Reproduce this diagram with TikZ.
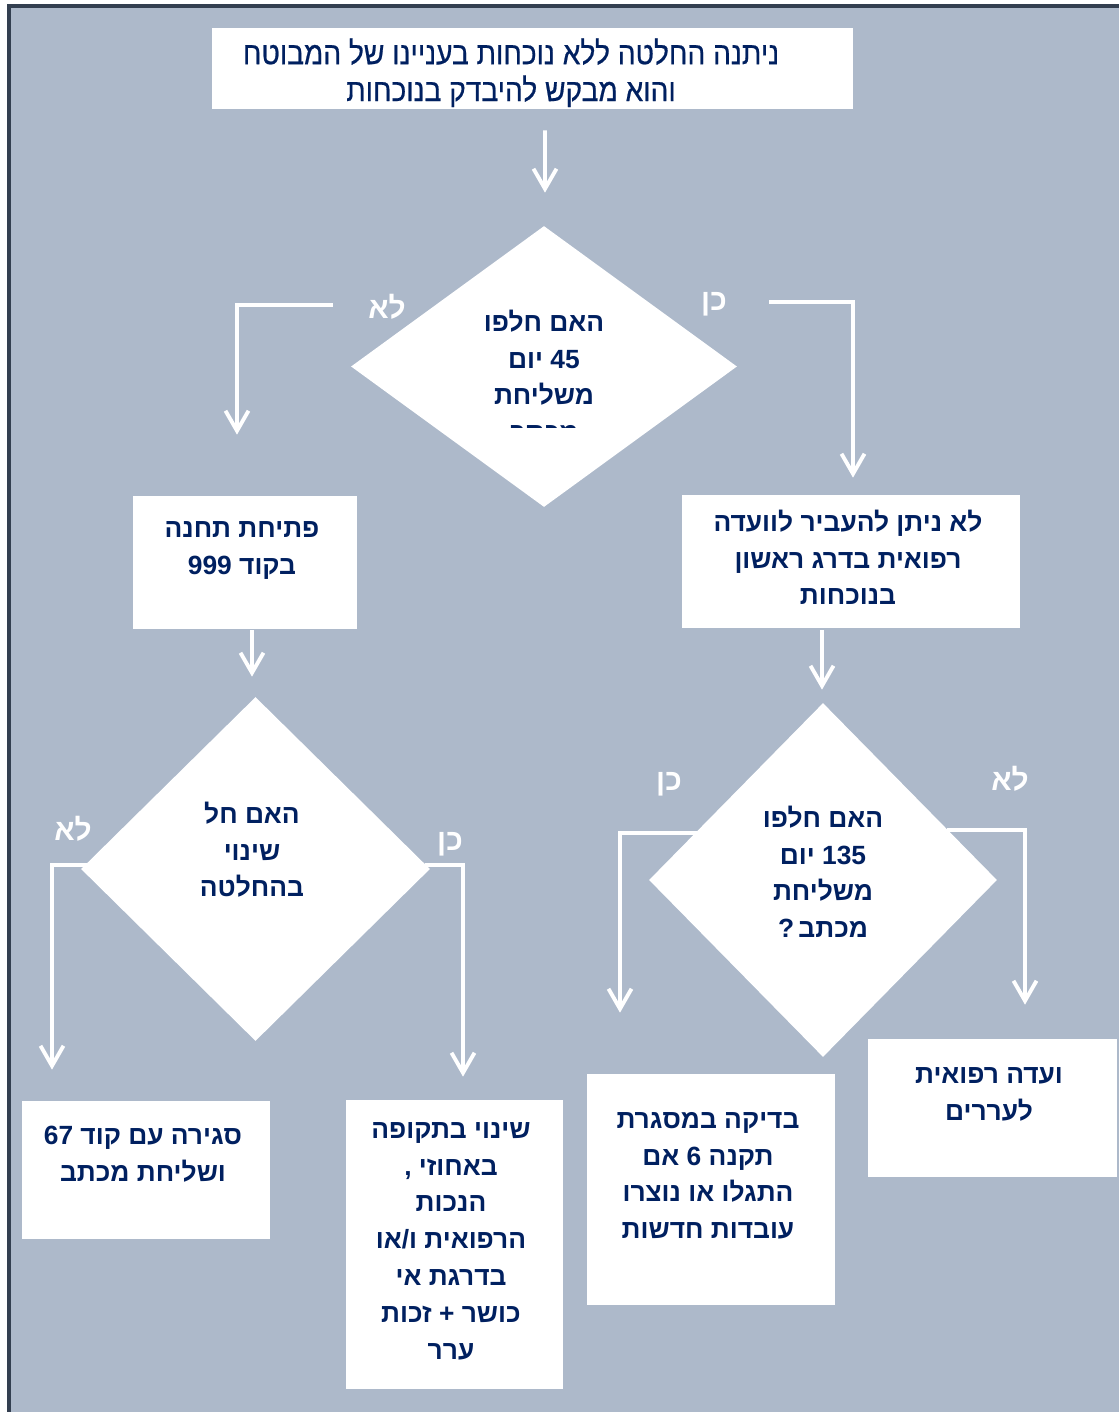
\documentclass[tikz,border=0pt]{standalone}
\usepackage{fontspec}
\usetikzlibrary{shapes.geometric,arrows.meta,calc}
\TeXXeTstate=1
\newfontfamily\hebfont[Script=Hebrew]{Liberation Sans}
\newfontfamily\hebnarrow[Script=Hebrew,FakeStretch=0.89,FakeBold=0.6]{Liberation Sans}
\newcommand{\heb}[1]{\strut\beginR #1\endR}
\definecolor{panel}{HTML}{ADB9CA}
\definecolor{frame}{HTML}{333F50}
\definecolor{navy}{HTML}{002060}

% One pixel of the sheet
\def\pxu{0.02cm}
\tikzset{
    box/.style 2 args={fill=white, inner sep=0pt, minimum width=#1*\pxu, minimum height=#2*\pxu},
    decision/.style 2 args={diamond, fill=white, inner sep=0pt, minimum width=#1*\pxu, minimum height=#2*\pxu},
    boxtext/.style={text=navy, align=center, inner sep=0pt, anchor=north, font={\hebfont\bfseries\fontsize{15}{21}\selectfont}},
    answer/.style={text=white, inner sep=0pt, font={\hebfont\bfseries\fontsize{17}{20}\selectfont}},
    flow/.style={white, line width=2.2pt, -{Straight Barb[length=4mm, width=4.6mm]}}
}

\begin{document}
\begin{tikzpicture}[x=0.02cm, y=-0.02cm]

    \useasboundingbox (0,0) rectangle (1119,1412);

    % Sheet and its frame
    \fill[white] (0,0) rectangle (1119,1412);
    \fill[panel] (7,4) rectangle (1119,1412);
    \fill[frame] (7,4) rectangle (11,1412);
    \fill[frame] (7,4) rectangle (1119,8);

    % Boxes
    \node[box={641}{81}] (start) at (532.5,68.5) {};
    \node[box={224}{133}] (open) at (245,562.5) {};
    \node[box={338}{133}] (noboard) at (851,561.5) {};
    \node[box={248}{138}] (close) at (146,1170) {};
    \node[box={217}{289}] (change) at (454.5,1244.5) {};
    \node[box={248}{231}] (check) at (711,1189.5) {};
    \node[box={249}{138}] (appeal) at (992.5,1108) {};

    % Decisions
    \node[decision={386}{281}] (q1) at (544,366.5) {};
    \node[decision={349}{344}] (q2) at (255.5,869) {};
    \node[decision={348}{354}] (q3) at (823,880) {};

    % Texts of the boxes
    \node[boxtext, font={\hebnarrow\fontsize{18}{21}\selectfont}] (startT) at (511,38)
        {\heb{ניתנה החלטה ללא נוכחות בעניינו של המבוטח}\\ \heb{והוא מבקש להיבדק בנוכחות}};
    \node[boxtext] (openT) at (242,511) {\heb{פתיחת תחנה}\\ \heb{בקוד 999}};
    \node[boxtext] (noboardT) at (848,505)
        {\heb{לא ניתן להעביר לוועדה}\\ \heb{רפואית בדרג ראשון}\\ \heb{בנוכחות}};
    \node[boxtext] (closeT) at (143,1118) {\heb{סגירה עם קוד 67}\\ \heb{ושליחת מכתב}};
    \node[boxtext] (changeT) at (451,1112)
        {\heb{שינוי בתקופה}\\ \heb{באחוזי ,}\\ \heb{הנכות}\\ \heb{הרפואית ו/או}\\ \heb{בדרגת אי}\\ \heb{כושר + זכות}\\ \heb{ערר}};
    \node[boxtext] (checkT) at (708,1102)
        {\heb{בדיקה במסגרת}\\ \heb{תקנה 6 אם}\\ \heb{התגלו או נוצרו}\\ \heb{עובדות חדשות}};
    \node[boxtext] (appealT) at (989,1057) {\heb{ועדה רפואית}\\ \heb{לעררים}};

    % Texts of the decisions (the first one is cut off)
    \begin{scope}
        \clip (380,290) rectangle (710,427);
        \node[boxtext] (q1T) at (544,305)
            {\heb{האם חלפו}\\ \heb{45 יום}\\ \heb{משליחת}\\ \heb{מכתב}};
    \end{scope}
    \node[boxtext] (q2T) at (252,797) {\heb{האם חל}\\ \heb{שינוי}\\ \heb{בהחלטה}};
    \node[boxtext] (q3T) at (823,801)
        {\heb{האם חלפו}\\ \heb{135 יום}\\ \heb{משליחת}\\ \heb{מכתב\thinspace?}};

    % Answers
    \node[answer] (q1no) at (387,311) {\heb{לא}};
    \node[answer] (q1yes) at (714,303) {\heb{כן}};
    \node[answer] (q2no) at (73,833) {\heb{לא}};
    \node[answer] (q2yes) at (450,843) {\heb{כן}};
    \node[answer] (q3yes) at (669,783) {\heb{כן}};
    \node[answer] (q3no) at (1010,783) {\heb{לא}};

    % Arrows
    \draw[flow] ($(start.south)+(12.5,21)$) -- ($(q1.north)+(1,-33)$);
    \draw[flow] ($(q1.west)+(-18,-61.5)$) -| ($(open.north)+(-8,-61)$);
    \draw[flow] ($(q1.east)+(32,-64.5)$) -| ($(noboard.north)+(2,-17)$);
    \draw[flow] ($(open.south)+(7,1)$) -- ($(q2.north)+(-3.5,-20)$);
    \draw[flow] ($(noboard.south)+(-29,2)$) -- ($(q3.north)+(-1,-13)$);
    \draw[flow] ($(q2.west)+(6,-4)$) -| ($(close.north)+(-94,-31)$);
    \draw[flow] ($(q2.east)+(-5,-4)$) -| ($(change.north)+(8.5,-23)$);
    \draw[flow] ($(q3.west)+(48,-47)$) -| ($(check.north)+(-91,-61)$);
    \draw[flow] ($(q3.east)+(-50,-50)$) -| ($(appeal.north)+(32.5,-34)$);

\end{tikzpicture}
\end{document}
